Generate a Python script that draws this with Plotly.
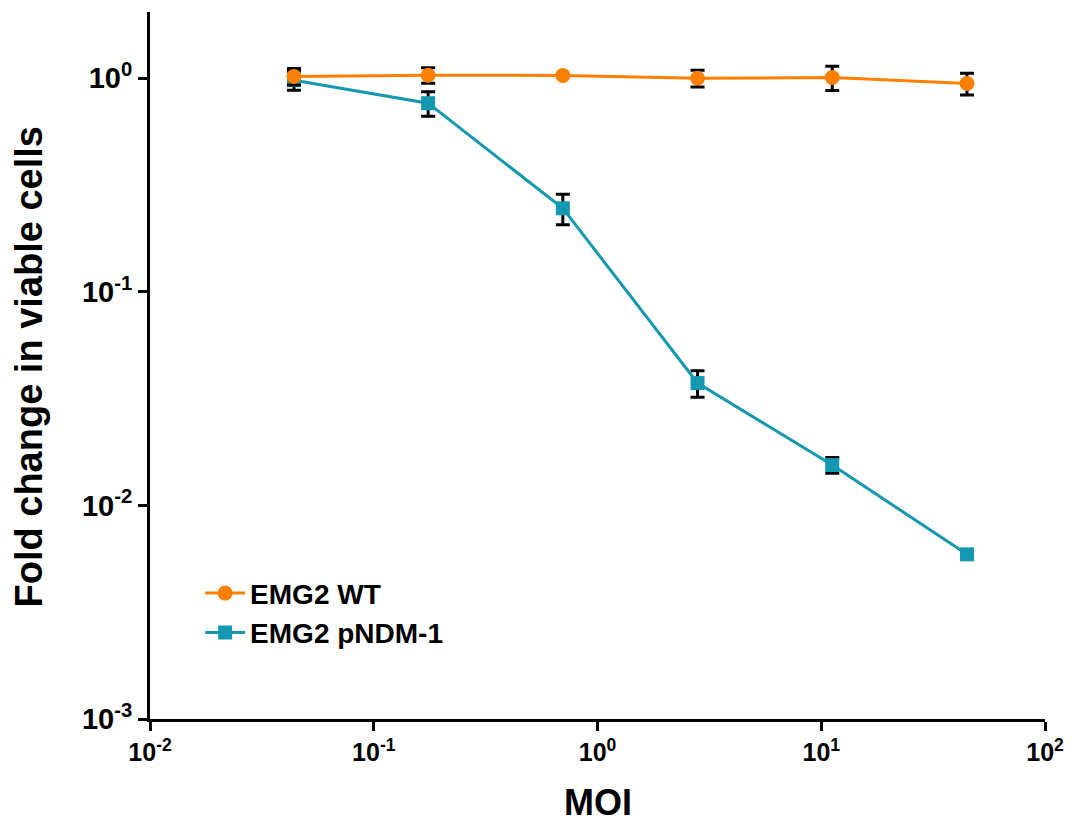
import plotly.graph_objects as go

moi = [0.044, 0.175, 0.70, 2.8, 11.2, 44.8]
wt_vals = [1.02, 1.033, 1.03, 1.0, 1.007, 0.944]
wt_err = [0.09, 0.085, 0.0, 0.09, 0.13, 0.11]
ndm_vals = [0.979, 0.764, 0.246, 0.0374, 0.01545, 0.0059]
ndm_err = [0.1, 0.1, 0.04, 0.0053, 0.0013, 0.0]

x_tickvals = [0.01, 0.1, 1, 10, 100]
x_ticktext = ["10<sup>-2</sup>", "10<sup>-1</sup>", "10<sup>0</sup>", "10<sup>1</sup>", "10<sup>2</sup>"]
y_tickvals = [0.001, 0.01, 0.1, 1]
y_ticktext = ["10<sup>-3</sup>", "10<sup>-2</sup>", "10<sup>-1</sup>", "10<sup>0</sup>"]

orange = "#FF8000"
teal = "#1498B2"
font_family = "Liberation Sans, Arial, sans-serif"

fig = go.Figure()
fig.add_trace(go.Scatter(
    x=moi, y=ndm_vals, name="EMG2 pNDM-1", mode="lines+markers",
    legendgroup="b", legendrank=2,
    line=dict(color=teal, width=3),
    marker=dict(symbol="square", size=14, color=teal),
    error_y=dict(type="data", array=ndm_err, color="black", thickness=3, width=7),
))
fig.add_trace(go.Scatter(
    x=moi, y=wt_vals, name="EMG2 WT", mode="lines+markers",
    legendgroup="a", legendrank=1,
    line=dict(color=orange, width=3),
    marker=dict(symbol="circle", size=15, color=orange),
    error_y=dict(type="data", array=wt_err, color="black", thickness=3, width=7),
))

# page body has an 8px default margin, so the figure is 8px smaller
fig.update_layout(
    width=1067, height=817,
    margin=dict(l=142, r=30, t=4, b=106),
    plot_bgcolor="white", paper_bgcolor="white",
    font=dict(family=font_family, color="black"),
    showlegend=True,
    legend=dict(
        x=0.056, y=0.213, xanchor="left", yanchor="top",
        traceorder="grouped",
        font=dict(size=28, family=font_family, weight="bold", color="black"),
        bgcolor="rgba(0,0,0,0)", itemwidth=40, tracegroupgap=0,
    ),
    annotations=[
        dict(text="Fold change in viable cells", textangle=-90,
             xref="paper", yref="paper", x=-0.1352, y=0.4986,
             xanchor="center", yanchor="middle", showarrow=False,
             font=dict(size=38, family=font_family, weight="bold", color="black")),
        dict(text="MOI",
             xref="paper", yref="paper", x=0.5, y=-0.118,
             xanchor="center", yanchor="middle", showarrow=False,
             font=dict(size=36, family=font_family, weight="bold", color="black")),
    ],
)
fig.update_xaxes(
    type="log", range=[-2, 2], automargin=False,
    tickvals=x_tickvals, ticktext=x_ticktext,
    tickfont=dict(size=25, family=font_family, weight="bold"),
    showline=True, linecolor="black", linewidth=3,
    ticks="outside", ticklen=9, tickwidth=3, tickcolor="black",
    showgrid=False, zeroline=False,
)
fig.update_yaxes(
    type="log", range=[-3, 0.31], automargin=False,
    tickvals=y_tickvals, ticktext=y_ticktext,
    tickfont=dict(size=29, family=font_family, weight="bold"),
    showline=True, linecolor="black", linewidth=3,
    ticks="outside", ticklen=9, tickwidth=3, tickcolor="black",
    showgrid=False, zeroline=False,
)

fig.write_html("out.html")
